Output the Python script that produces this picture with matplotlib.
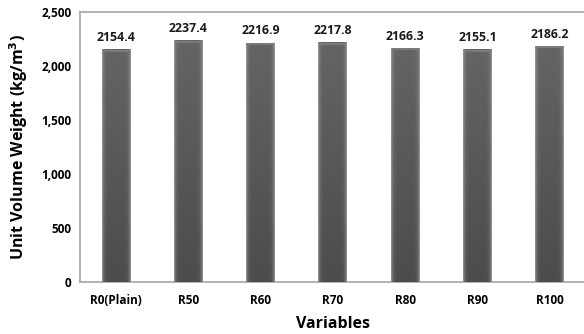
import matplotlib
matplotlib.use("Agg")
import matplotlib.pyplot as plt
import numpy as np

categories = ["R0(Plain)", "R50", "R60", "R70", "R80", "R90", "R100"]
values = [2154.4, 2237.4, 2216.9, 2217.8, 2166.3, 2155.1, 2186.2]
yticks = [0, 500, 1000, 1500, 2000, 2500]

plt.rcParams['font.family'] = ['Open Sans', 'DejaVu Sans']
fig = plt.figure(figsize=(5.84, 3.34), dpi=100)
ax = fig.add_axes([0.137, 0.156, 0.866, 0.808])

x = np.arange(len(categories))
width = 0.4
bars = ax.bar(x, values, width=width, color="#5a5a5a", zorder=2)

# cylindrical + vertical gradient shading (as RGB image)
nx, ny = 64, 100
gx = np.linspace(-1, 1, nx)
edge = np.abs(gx) ** 8                      # 0 centre -> 1 edge
gy = np.linspace(0, 1, ny)[:, None]         # 0 bottom -> 1 top
base = 0x4c / 255 + (0x64 - 0x4c) / 255 * gy
img = base + (0x95 / 255 - base) * edge[None, :]
rgb = np.dstack([img, img, img])
for b in bars:
    x0, w, h = b.get_x(), b.get_width(), b.get_height()
    im = ax.imshow(rgb, extent=[x0, x0 + w, 0, h], aspect="auto", origin="lower",
                   zorder=3, interpolation="bilinear")
    im.set_clip_path(b)
    # top bevel highlight
    ax.fill_between([x0 + w * 0.06, x0 + w * 0.94], h - 22, h - 4, color="#7a7a7a", zorder=4,
                    lw=0)

for xi, v in zip(x, values):
    ax.text(xi, v + 50, f"{v:.1f}", ha="center", va="bottom", fontsize=8.8, fontweight="bold",
            color="#1a1a1a")

ax.set_xlim(-0.5, len(categories) - 0.5)
ax.set_ylim(0, 2500)
ax.set_yticks(yticks)
ax.set_yticklabels([f"{t:,}" for t in yticks], fontsize=8.5, fontweight="bold")
ax.set_xticks(x)
ax.set_xticklabels(categories, fontsize=8.5, fontweight="bold")
ax.tick_params(length=0, pad=6)
ax.tick_params(axis="x", pad=9)
for s in ["left", "bottom", "top"]:
    ax.spines[s].set_color("#a6a6a6")
    ax.spines[s].set_linewidth(1.2)
ax.spines["right"].set_visible(False)
ax.set_ylabel("Unit Volume Weight (kg/m$^{\\mathbf{3}}$)", fontsize=11.5, fontweight="bold", labelpad=8)
ax.set_xlabel("Variables", fontsize=11.5, fontweight="bold", labelpad=6)

fig.savefig("out.png", dpi=100)
